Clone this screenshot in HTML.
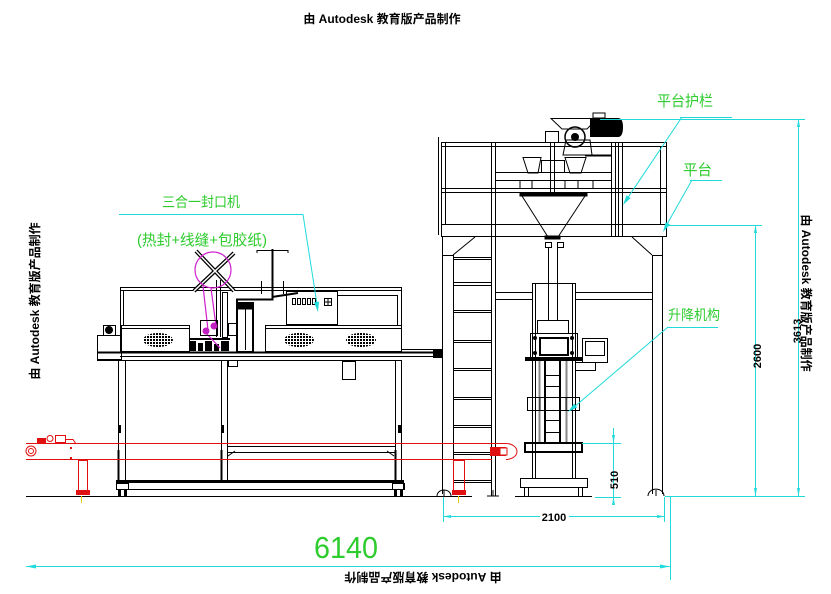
<!DOCTYPE html>
<html><head><meta charset="utf-8"><style>
html,body{margin:0;padding:0;background:#fff;}
svg{display:block;}
.w{font-family:"Liberation Sans","Noto Sans CJK SC",sans-serif;font-weight:bold;font-size:12px;fill:#000;}
.g{font-family:"Liberation Sans","Noto Sans CJK SC",sans-serif;fill:#2ecc2e;}
.d{font-family:"Liberation Sans",sans-serif;font-weight:bold;font-size:11px;fill:#000;}
</style></head><body>
<svg width="831" height="594" viewBox="0 0 831 594" xmlns="http://www.w3.org/2000/svg">
<defs>
<pattern id="gr" width="3" height="3" patternUnits="userSpaceOnUse"><rect width="2" height="2" fill="#000"/></pattern>
</defs>
<rect width="831" height="594" fill="#fff"/>

<!-- watermarks -->
<text class="w" x="382" y="23" text-anchor="middle">由 Autodesk 教育版产品制作</text>
<text class="w" transform="translate(39,301) rotate(-90)" text-anchor="middle">由 Autodesk 教育版产品制作</text>
<text class="w" transform="translate(802,293) rotate(90)" text-anchor="middle">由 Autodesk 教育版产品制作</text>
<text class="w" transform="translate(423,573) rotate(180)" text-anchor="middle">由 Autodesk 教育版产品制作</text>

<!-- ============ SEALER MACHINE ============ -->
<g fill="none" stroke="#000" stroke-width="1">
  <!-- top frame -->
  <rect x="120.5" y="287.5" width="281" height="3"/>
  <line x1="120.5" y1="287" x2="120.5" y2="352"/>
  <line x1="123.5" y1="291" x2="123.5" y2="325"/>
  <line x1="401.5" y1="287" x2="401.5" y2="352"/>
  <line x1="397.5" y1="295" x2="397.5" y2="325"/>
  <line x1="337" y1="295.5" x2="398" y2="295.5"/>
  <!-- control box -->
  <rect x="286.5" y="291.5" width="51" height="33"/>
  <rect x="292.5" y="298.5" width="3" height="6"/>
  <rect x="297.5" y="298.5" width="3" height="6"/>
  <rect x="302.5" y="298.5" width="3" height="6"/>
  <rect x="307.5" y="298.5" width="3" height="6"/>
  <rect x="312.5" y="298.5" width="3" height="6"/>
  <rect x="324.5" y="298.5" width="7" height="7"/>
  <line x1="328" y1="298" x2="328" y2="306"/>
  <line x1="324" y1="302" x2="332" y2="302"/>
  <!-- enclosures -->
  <rect x="121.5" y="325.5" width="68" height="26"/>
  <line x1="122" y1="328.5" x2="189" y2="328.5"/>
  <rect x="265.5" y="325.5" width="136" height="26"/>
  <line x1="266" y1="328.5" x2="401" y2="328.5"/>
  <!-- left box + motor -->
  <rect x="97.5" y="335.5" width="24" height="24"/>
  <rect x="103.5" y="325.5" width="12" height="10"/>
  <circle cx="109" cy="330" r="3.5" fill="#000"/>
  <!-- table -->
  <line x1="97" y1="352.5" x2="442" y2="352.5" stroke-width="2"/>
  <line x1="120" y1="356.5" x2="442" y2="356.5"/>
  <line x1="97" y1="360.5" x2="402" y2="360.5"/>
  <line x1="402" y1="349.5" x2="442" y2="349.5"/>
  <rect x="342.5" y="361.5" width="13" height="18"/>
  <rect x="228.5" y="360.5" width="9" height="6"/>
  <!-- legs -->
  <line x1="118.5" y1="360" x2="118.5" y2="482"/>
  <line x1="125.5" y1="360" x2="125.5" y2="482"/>
  <line x1="221.5" y1="360" x2="221.5" y2="482"/>
  <line x1="227.5" y1="360" x2="227.5" y2="482"/>
  <line x1="395.5" y1="360" x2="395.5" y2="482"/>
  <line x1="401.5" y1="360" x2="401.5" y2="482"/>
  <line x1="118.5" y1="450" x2="118.5" y2="480" stroke-width="2"/>
  <line x1="221.5" y1="450" x2="221.5" y2="480" stroke-width="2"/>
  <line x1="395.5" y1="450" x2="395.5" y2="480" stroke-width="2"/>
  <!-- crossbar -->
  <line x1="227" y1="446.5" x2="395" y2="446.5"/>
  <line x1="227" y1="452.5" x2="395" y2="452.5"/>
  <path d="M228 456 L235 451 M394 456 L387 451"/>
  <!-- bottom rail -->
  <rect x="116" y="480" width="288" height="3" fill="#000" stroke="none"/>
  <line x1="116" y1="489.5" x2="404" y2="489.5"/>
  <line x1="116.5" y1="483" x2="116.5" y2="490"/>
  <line x1="403.5" y1="483" x2="403.5" y2="490"/>
  <rect x="116.5" y="483.5" width="12" height="6"/>
  <rect x="392.5" y="483.5" width="12" height="6"/>
</g>
<g fill="#000">
  <rect x="118" y="490" width="3" height="6"/><rect x="124" y="490" width="3" height="6"/>
  <rect x="394" y="490" width="3" height="6"/><rect x="400" y="490" width="3" height="6"/>
  <rect x="118" y="425" width="3" height="8"/><rect x="221" y="425" width="3" height="8"/><rect x="398" y="425" width="3" height="8"/>
  <!-- mechanism under -->
  <rect x="190" y="341" width="6" height="10"/><rect x="198" y="343" width="5" height="8"/>
  <rect x="205" y="341" width="7" height="10"/><rect x="214" y="344" width="5" height="7"/>
  <rect x="221" y="341" width="8" height="10"/><rect x="190" y="338" width="40" height="2"/>
  <rect x="435" y="350" width="7" height="8"/>
</g>
<ellipse cx="158" cy="340" rx="15" ry="7" fill="url(#gr)"/>
<ellipse cx="299" cy="340" rx="15" ry="7" fill="url(#gr)"/>
<ellipse cx="361" cy="340" rx="15" ry="7" fill="url(#gr)"/>

<!-- sewing / wrap area -->
<g fill="none" stroke="#000" stroke-width="1">
  <line x1="216.5" y1="280" x2="216.5" y2="337"/>
  <line x1="220.5" y1="280" x2="220.5" y2="337"/>
  <rect x="222.5" y="292.5" width="5" height="45"/>
  <rect x="237" y="303" width="16" height="49" stroke-width="2"/>
  <line x1="245.5" y1="305" x2="245.5" y2="350"/>
  <rect x="237" y="303" width="16" height="6" fill="#000"/>
  <path d="M237 303 V299.5 H272.5 V249" stroke-width="2"/>
  <path d="M272 297 L298 293" stroke-width="2"/>
  <path d="M257 253 V250.5 H288 V253"/>
  <line x1="261.5" y1="281" x2="261.5" y2="294"/>
  <line x1="283.5" y1="281" x2="283.5" y2="294"/>
  <rect x="228.5" y="323.5" width="8" height="12"/>
  <!-- reel X -->
  <line x1="196" y1="251" x2="234" y2="291" stroke-width="4"/>
  <line x1="234" y1="253" x2="194" y2="291" stroke-width="4"/>
  <line x1="196" y1="251" x2="234" y2="291" stroke="#fff" stroke-width="1.5"/>
  <line x1="234" y1="253" x2="194" y2="291" stroke="#fff" stroke-width="1.5"/>
</g>
<g fill="none" stroke="#d020d0" stroke-width="1.2">
  <circle cx="213" cy="270" r="18"/>
  <line x1="203" y1="286" x2="208" y2="330"/>
  <line x1="211" y1="288" x2="216" y2="326"/>
  <line x1="206" y1="333" x2="220" y2="348"/>
  <rect x="200.5" y="320.5" width="17" height="15" stroke="#000" stroke-width="1"/>
</g>
<circle cx="206" cy="331" r="3.5" fill="#c020c0"/>
<circle cx="214" cy="326" r="3.5" fill="#c020c0"/>

<!-- ============ TOWER ============ -->
<g fill="none" stroke="#000" stroke-width="1">
  <!-- guard posts -->
  <line x1="438.5" y1="137" x2="438.5" y2="235"/>
  <line x1="441.5" y1="142" x2="441.5" y2="237"/>
  <line x1="445.5" y1="142" x2="445.5" y2="224"/>
  <line x1="491.5" y1="142" x2="491.5" y2="496"/>
  <line x1="495.5" y1="142" x2="495.5" y2="496"/>
  <line x1="550.5" y1="142" x2="550.5" y2="194"/>
  <line x1="554.5" y1="142" x2="554.5" y2="194"/>
  <line x1="611.5" y1="142" x2="611.5" y2="237"/>
  <line x1="615.5" y1="142" x2="615.5" y2="237"/>
  <line x1="618.5" y1="142" x2="618.5" y2="237"/>
  <line x1="622.5" y1="142" x2="622.5" y2="237"/>
  <line x1="660.5" y1="146" x2="660.5" y2="224"/>
  <line x1="666.5" y1="142" x2="666.5" y2="237"/>
  <!-- rails -->
  <rect x="441.5" y="142.5" width="225" height="4"/>
  <rect x="441.5" y="188.5" width="225" height="4"/>
  <!-- inner band -->
  <rect x="495.5" y="172.5" width="116" height="8"/>
  <line x1="520" y1="181" x2="520" y2="188"/><line x1="532" y1="181" x2="532" y2="188"/>
  <line x1="565" y1="181" x2="565" y2="188"/><line x1="578" y1="181" x2="578" y2="188"/>
  <line x1="593" y1="181" x2="593" y2="188"/>
  <line x1="585" y1="155.5" x2="612" y2="155.5" stroke-width="2"/>
  <!-- small weigh hoppers -->
  <path d="M523 157.5 H541 L538 173 H528 Z"/>
  <path d="M565 157.5 H586 L581 173 H570 Z"/>
  <rect x="541.5" y="160.5" width="23" height="12"/>
  <!-- feed hopper + wheel -->
  <path d="M551 118.5 H597 L587 129 H562 Z"/>
  <rect x="545.5" y="131.5" width="13" height="11"/>
  <path d="M566 140 H590 L592 155 H563 Z"/>
  <circle cx="575" cy="137" r="10" stroke-width="1.5"/>
  <!-- platform -->
  <rect x="441.5" y="224.5" width="225" height="12"/>
  <line x1="475" y1="237" x2="453" y2="255"/>
  <line x1="632" y1="237" x2="652" y2="255"/>
  <!-- legs -->
  <line x1="442.5" y1="237" x2="442.5" y2="494"/>
  <line x1="453.5" y1="255" x2="453.5" y2="494"/>
  <line x1="442" y1="255.5" x2="453" y2="255.5"/>
  <line x1="652.5" y1="255" x2="652.5" y2="494"/>
  <line x1="662.5" y1="237" x2="662.5" y2="494"/>
  <line x1="652" y1="255.5" x2="663" y2="255.5"/>
  <!-- ladder rungs -->
  <rect x="453.5" y="257.5" width="38" height="2"/>
  <rect x="453.5" y="282.5" width="38" height="3"/>
  <rect x="453.5" y="310.5" width="38" height="2"/>
  <rect x="453.5" y="340.5" width="38" height="2"/>
  <rect x="453.5" y="368.5" width="38" height="2"/>
  <rect x="453.5" y="397.5" width="38" height="2"/>
  <rect x="453.5" y="425.5" width="38" height="2"/>
  <rect x="453.5" y="452.5" width="38" height="2"/>
  <rect x="453.5" y="480.5" width="38" height="2"/>
  <!-- crossbars -->
  <rect x="495.5" y="292.5" width="37" height="7"/>
  <rect x="575.5" y="292.5" width="77" height="7"/>
  <!-- feet -->
  <path d="M437 496 A7 6 0 0 1 451 496 M444 490 V496"/>
  <path d="M648 496 A7 6 0 0 1 664 496 M656 490 V496"/>
  <path d="M487 496 H499 M493 490 V496"/>
  <!-- main hopper -->
  <rect x="520" y="193" width="67" height="3" fill="#000"/>
  <path d="M522 196 L548 237 M585 196 L558 237"/>
  <rect x="545" y="236" width="15" height="3" fill="#000"/>
  <rect x="545.5" y="242.5" width="6" height="5"/>
  <rect x="557.5" y="242.5" width="6" height="5"/>
  <line x1="548.5" y1="248" x2="548.5" y2="320"/>
  <line x1="557.5" y1="248" x2="557.5" y2="320"/>
  <!-- lift frame -->
  <rect x="532.5" y="283.5" width="43" height="195"/>
  <line x1="535.5" y1="284" x2="535.5" y2="478"/>
  <line x1="572.5" y1="284" x2="572.5" y2="478"/>
  <rect x="537.5" y="320.5" width="31" height="13"/>
  <rect x="530.5" y="333.5" width="47" height="24"/>
  <rect x="540" y="338" width="28" height="17" stroke-width="2"/>
  <rect x="582.5" y="338.5" width="25" height="24"/>
  <rect x="585.5" y="341.5" width="19" height="14"/>
  <rect x="575.5" y="362.5" width="20" height="8"/>
  <line x1="539.5" y1="361" x2="539.5" y2="443" stroke="#888" stroke-width="2"/>
  <line x1="566.5" y1="361" x2="566.5" y2="443" stroke="#888" stroke-width="2"/>
  <line x1="545" y1="361" x2="545" y2="443" stroke-width="2"/>
  <line x1="560" y1="361" x2="560" y2="443" stroke-width="2"/>
  <line x1="545" y1="375.5" x2="560" y2="375.5"/>
  <line x1="545" y1="386.5" x2="560" y2="386.5"/>
  <line x1="545" y1="420.5" x2="560" y2="420.5"/>
  <line x1="545" y1="432.5" x2="560" y2="432.5"/>
  <rect x="527.5" y="397.5" width="52" height="13"/>
  <line x1="540" y1="398" x2="540" y2="410"/><line x1="566" y1="398" x2="566" y2="410"/>
  <rect x="525" y="443" width="57" height="9" stroke-width="2"/>
  <rect x="520.5" y="478.5" width="67" height="9"/>
  <line x1="524.5" y1="488" x2="524.5" y2="496"/><line x1="528.5" y1="488" x2="528.5" y2="496"/>
  <line x1="578.5" y1="488" x2="578.5" y2="496"/><line x1="582.5" y1="488" x2="582.5" y2="496"/>
</g>
<g fill="#000">
  <rect x="525" y="357" width="58" height="4"/>
  <circle cx="535" cy="338" r="2"/><circle cx="572" cy="338" r="2"/>
  <circle cx="535" cy="353" r="2"/><circle cx="572" cy="353" r="2"/>
  <!-- motor -->
  <path d="M590 118 H618 Q623 118 623 127 Q623 137 618 137 H590 Z"/>
  <rect x="593" y="113" width="12" height="5" fill="#fff" stroke="#000"/>
  <circle cx="575" cy="137" r="4"/>
  <rect x="433" y="350" width="9" height="8"/>
</g>

<!-- ground -->
<line x1="26" y1="496.5" x2="472" y2="496.5" stroke="#000" stroke-width="1"/>
<line x1="515" y1="496.5" x2="592" y2="496.5" stroke="#000" stroke-width="1"/>

<!-- ============ RED CONVEYOR ============ -->
<g fill="none" stroke="#e01010" stroke-width="1">
  <path d="M26 443.5 H506 A11 8 0 0 1 506 459.5 M26 459.5 H492"/>
  <circle cx="31" cy="451" r="5"/>
  <circle cx="31" cy="451" r="2.5"/>
  <rect x="78.5" y="460.5" width="9" height="30"/>
  <rect x="453.5" y="460.5" width="11" height="30"/>
  <rect x="55.5" y="435.5" width="10" height="7"/>
  <path d="M65 439.5 H73 L76 444"/>
  <circle cx="50" cy="438.5" r="3"/>
</g>
<g fill="#e01010">
  <rect x="37" y="438" width="9" height="5"/>
  <rect x="76" y="490" width="14" height="5"/>
  <rect x="452" y="490" width="14" height="5"/>
  <rect x="490" y="447" width="16" height="9"/>
  <rect x="70" y="447" width="2" height="2"/><rect x="70" y="457" width="2" height="2"/>
</g>
<rect x="500" y="448" width="7" height="7" fill="#fff" stroke="#e01010"/>
<g stroke="#e0d000" stroke-width="1">
  <line x1="81.5" y1="496" x2="81.5" y2="503"/>
  <line x1="458.5" y1="496" x2="458.5" y2="503"/>
</g>

<!-- ============ DIMENSIONS (cyan) ============ -->
<g stroke="#20dada" stroke-width="1" fill="none">
  <!-- 3613 -->
  <line x1="600" y1="119.5" x2="805" y2="119.5"/>
  <line x1="798.5" y1="119" x2="798.5" y2="496"/>
  <line x1="665" y1="496.5" x2="805" y2="496.5"/>
  <!-- 2600 -->
  <line x1="668" y1="225.5" x2="762" y2="225.5"/>
  <line x1="755.5" y1="225" x2="755.5" y2="496"/>
  <!-- 510 -->
  <line x1="582" y1="443.5" x2="621" y2="443.5"/>
  <line x1="595" y1="497.5" x2="621" y2="497.5"/>
  <line x1="613.5" y1="428" x2="613.5" y2="505"/>
  <!-- 2100 -->
  <line x1="443.5" y1="497" x2="443.5" y2="522"/>
  <line x1="664.5" y1="497" x2="664.5" y2="522"/>
  <line x1="443" y1="516.5" x2="540" y2="516.5"/>
  <line x1="569" y1="516.5" x2="665" y2="516.5"/>
  <!-- 6140 -->
  <line x1="26" y1="566.5" x2="670" y2="566.5"/>
  <line x1="670.5" y1="497" x2="670.5" y2="580"/>
  <!-- leaders -->
  <polyline points="119,214.5 303,214.5 317,304"/>
  <line x1="680" y1="117.5" x2="732" y2="117.5"/>
  <line x1="682" y1="117" x2="627" y2="199"/>
  <line x1="690" y1="180.5" x2="722" y2="180.5"/>
  <line x1="692" y1="180" x2="666" y2="226"/>
  <line x1="668" y1="327.5" x2="718" y2="327.5"/>
  <line x1="668" y1="327" x2="573" y2="408"/>
</g>
<g fill="#20dada">
  <!-- dimension arrows -->
  <polygon points="798.5,119 797,127 800,127"/>
  <polygon points="798.5,496 797,488 800,488"/>
  <polygon points="755.5,225 754,233 757,233"/>
  <polygon points="755.5,496 754,488 757,488"/>
  <polygon points="613.5,443 612,435 615,435"/>
  <polygon points="613.5,497 612,505 615,505"/>
  <polygon points="443,516.5 451,515 451,518"/>
  <polygon points="665,516.5 657,515 657,518"/>
  <polygon points="26,566.5 36,564.5 36,568.5"/>
  <polygon points="670,566.5 660,564.5 660,568.5"/>
  <!-- leader arrows -->
  <polygon points="318,312 319,301.6 314,302.4"/>
  <polygon points="623,205 630.6,198.1 626.5,195.3"/>
  <polygon points="663,232 670.1,224.5 665.7,222.1"/>
  <polygon points="568,412 577.2,407.4 574,403.6"/>
</g>

<!-- dimension text -->
<text class="d" x="554" y="521" text-anchor="middle">2100</text>
<text class="d" transform="translate(618,480) rotate(-90)" text-anchor="middle">510</text>
<text class="d" transform="translate(761,356) rotate(-90)" text-anchor="middle">2600</text>
<text class="d" transform="translate(801,331) rotate(-90)" text-anchor="middle">3613</text>
<text x="346" y="558" text-anchor="middle" font-family="Liberation Sans, sans-serif" font-size="31" fill="#2ecc2e" textLength="64" lengthAdjust="spacingAndGlyphs">6140</text>

<!-- green labels -->
<text class="g" x="162" y="207" font-size="14" textLength="78" lengthAdjust="spacingAndGlyphs">三合一封口机</text>
<text class="g" x="137" y="245" font-size="15" textLength="130" lengthAdjust="spacingAndGlyphs">(热封+线缝+包胶纸)</text>
<text class="g" x="657" y="106" font-size="15" textLength="56" lengthAdjust="spacingAndGlyphs">平台护栏</text>
<text class="g" x="683" y="175" font-size="15" textLength="29" lengthAdjust="spacingAndGlyphs">平台</text>
<text class="g" x="668" y="320" font-size="14" textLength="52" lengthAdjust="spacingAndGlyphs">升降机构</text>
</svg>
</body></html>
